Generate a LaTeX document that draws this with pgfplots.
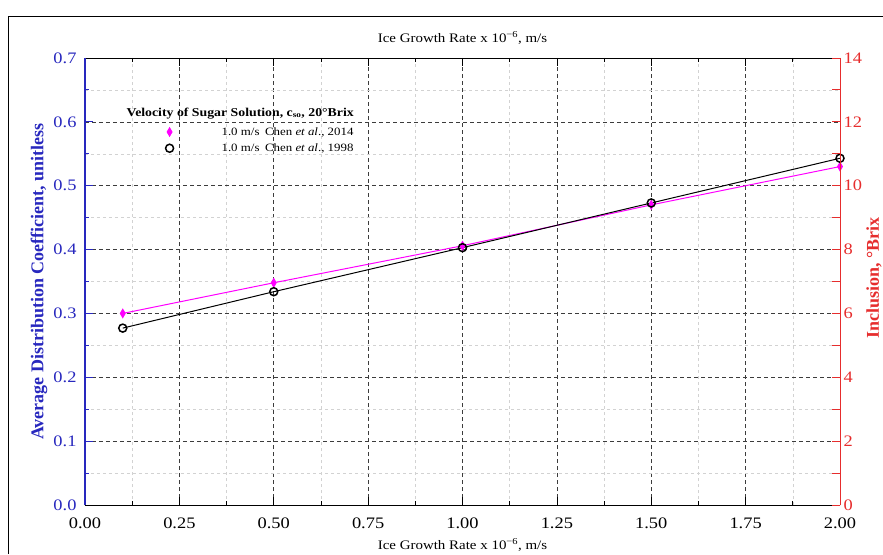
\documentclass[border=0pt]{standalone}
\usepackage{fontspec}
\setmainfont[FakeStretch=1.15]{Liberation Serif}
\newfontfamily\rotfont{Liberation Serif}
\usepackage{pgfplots}
\pgfplotsset{compat=1.18}
\definecolor{axblue}{RGB}{40,40,190}
\definecolor{axred}{RGB}{230,45,45}
\definecolor{mag}{RGB}{255,0,255}
\definecolor{majgrid}{RGB}{60,60,60}
\definecolor{mingrid}{RGB}{210,210,210}

\pgfplotstableread{
x y
0.1 0.300
0.5 0.348
1.0 0.406
1.5 0.470
2.0 0.530
}\chenA
\pgfplotstableread{
x y
0.1 0.277
0.5 0.334
1.0 0.403
1.5 0.473
2.0 0.543
}\chenB

\begin{document}
\begin{tikzpicture}
\useasboundingbox (-85pt,-49pt) rectangle (798pt,505pt);
\draw[black, line width=0.7pt] (-77pt,-49pt) -- (-77pt,489pt) -- (798pt,489pt);
\begin{axis}[
  at={(0pt,0pt)}, anchor=south west,
  scale only axis, width=755pt, height=447pt,
  xmin=0, xmax=2, ymin=0, ymax=0.7,
  axis x line*=box, axis y line*=left,
  xtick={0,0.25,0.5,0.75,1,1.25,1.5,1.75,2},
  ytick={0,0.1,0.2,0.3,0.4,0.5,0.6,0.7},
  minor x tick num=1, minor y tick num=1,
  grid=both,
  major grid style={dash pattern=on 4pt off 3pt, majgrid, line width=0.7pt},
  minor grid style={dash pattern=on 3pt off 3pt, mingrid, line width=0.5pt},
  tick align=inside,
  major tick length=8pt, minor tick length=4pt,
  x axis line style={black, line width=0.8pt},
  y axis line style={axblue, line width=1.2pt},
  x tick style={black, line width=0.7pt},
  y tick style={axblue, line width=0.9pt},
  /pgf/number format/assume math mode=true,
  tick label style={font=\fontsize{16}{18}\selectfont},
  xticklabel style={yshift=-9pt, /pgf/number format/.cd, fixed, fixed zerofill, precision=2},
  yticklabel style={xshift=-5pt, text=axblue, /pgf/number format/.cd, fixed, fixed zerofill, precision=1},
  title={Ice Growth Rate x 10\textsuperscript{−6}, m/s},
  title style={at={(axis description cs:0.5,1)}, anchor=center, yshift=14pt, font=\fontsize{13}{15}\selectfont},
  xlabel={Ice Growth Rate x 10\textsuperscript{−6}, m/s},
  xlabel style={at={(axis description cs:0.5,0)}, anchor=center, yshift=-40pt, font=\fontsize{13}{15}\selectfont},
  every axis y label/.style={at={(axis description cs:-0.061,0.5)}, rotate=90, anchor=center, font=\rotfont\bfseries\fontsize{18}{20}\selectfont, text=axblue},
  ylabel={Average Distribution Coefficient, unitless},
  legend style={at={(axis cs:0.205,0.598)}, anchor=north west, draw=none, fill=none,
    font=\fontsize{11.2}{12}\selectfont, row sep=3pt},
  legend cell align=left,
  legend image code/.code={\draw[#1] plot coordinates {(0.2cm,0cm)};},
]
\addplot[mag, line width=1pt, mark=diamond*, mark size=3.2pt, mark options={yscale=1.3, fill=mag}] table[x=x,y=y] {\chenA};
\addlegendentry{\hspace{46pt}1.0 m/s\enspace Chen \textit{et al}., 2014}
\addplot[black, line width=1pt, mark=o, mark size=4pt, mark options={line width=1.5pt}] table[x=x,y=y] {\chenB};
\addlegendentry{\hspace{46pt}1.0 m/s\enspace Chen \textit{et al}., 1998}
\node[font=\bfseries\fontsize{12}{14}\selectfont, anchor=center] at (axis cs:0.411,0.6135) {Velocity of Sugar Solution, c\textsubscript{so}, 20°Brix};
\end{axis}
\begin{axis}[
  at={(0pt,0pt)}, anchor=south west,
  scale only axis, width=755pt, height=447pt,
  xmin=0, xmax=2, ymin=0, ymax=14,
  axis x line=none, axis y line*=right,
  ytick={0,2,4,6,8,10,12,14},
  minor y tick num=1,
  tick align=inside,
  major tick length=8pt, minor tick length=8pt,
  y axis line style={axred, line width=0.9pt},
  y tick style={axred, line width=0.9pt},
  /pgf/number format/assume math mode=true,
  tick label style={font=\fontsize{16}{18}\selectfont},
  yticklabel style={text=axred},
  every axis y label/.style={at={(axis description cs:1.045,0.508)}, rotate=90, anchor=center, font=\rotfont\bfseries\fontsize{18}{20}\selectfont, text=axred},
  ylabel={Inclusion, °Brix},
]
\end{axis}
\end{tikzpicture}
\end{document}
